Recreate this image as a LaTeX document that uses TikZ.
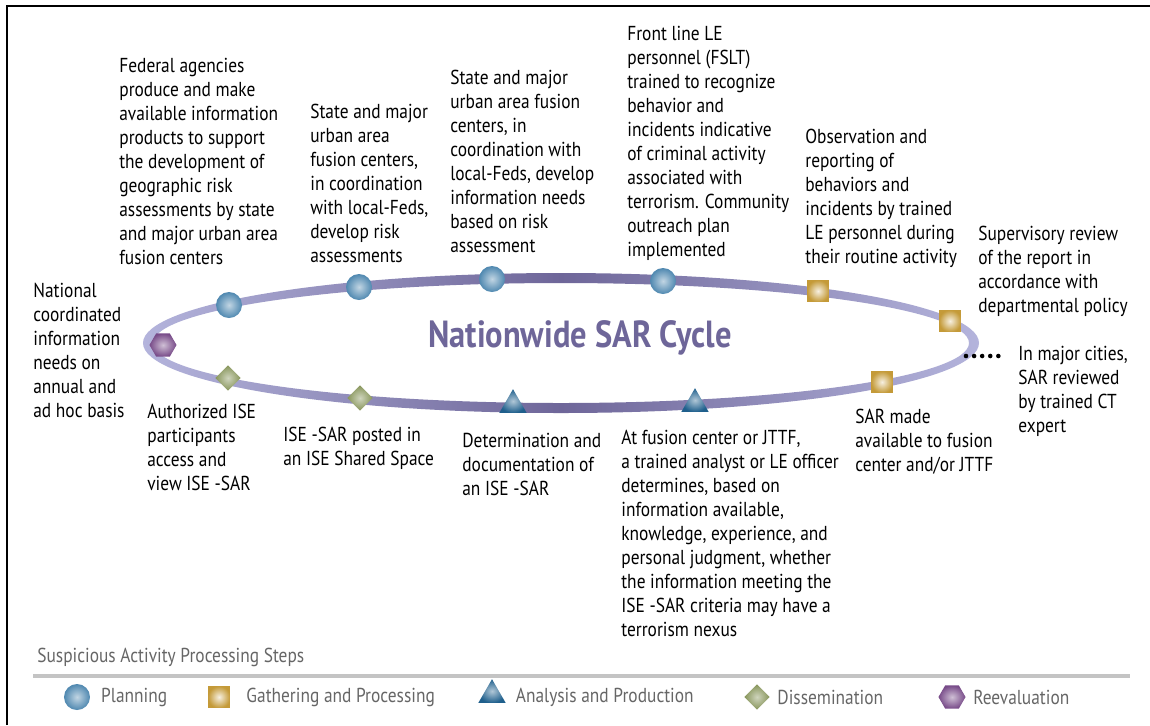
\documentclass[tikz,border=0pt]{standalone}
\usepackage{fontspec}
\setmainfont{PT Sans}[FakeStretch=0.86]
\usepackage{xcolor}
\usetikzlibrary{shapes.geometric,positioning}

\definecolor{ringlight}{HTML}{B4B4DC}
\definecolor{ringdark}{HTML}{6E6699}
\definecolor{titlecol}{HTML}{6E6699}
\definecolor{planblue}{HTML}{4F88B0}
\definecolor{gathergold}{HTML}{C49A38}
\definecolor{analysisblue}{HTML}{1F5F8C}
\definecolor{dissemgreen}{HTML}{87955A}
\definecolor{reevalpurple}{HTML}{774A88}
\definecolor{legendgray}{HTML}{666666}

\tikzset{
	txt/.style={anchor=north west, align=left, inner sep=0pt, yshift=-1.7pt, font=\fontsize{11.5}{13.66}\selectfont},
	legtxt/.style={anchor=west, inner sep=0pt, text=legendgray, font=\fontsize{11.5}{13.66}\selectfont},
	plan/.style={circle, inner sep=0pt, minimum size=14.8pt, shading=radial, inner color=planblue!35!white, outer color=planblue},
	gather/.style={rectangle, inner sep=0pt, minimum size=12.5pt, shading=radial, inner color=gathergold!15, outer color=gathergold},
	analysis/.style={regular polygon, regular polygon sides=3, inner sep=0pt, minimum size=18pt, shading=radial, inner color=analysisblue!35!white, outer color=analysisblue},
	dissem/.style={diamond, inner sep=0pt, minimum size=14.5pt, shading=radial, inner color=dissemgreen!40, outer color=dissemgreen},
	reeval/.style={regular polygon, regular polygon sides=6, inner sep=0pt, minimum size=15.4pt, shading=radial, inner color=reevalpurple!35!white, outer color=reevalpurple},
	dotline/.style={line width=2.6pt, dash pattern=on 0pt off 4.6pt, line cap=round}
}

\begin{document}
\begin{tikzpicture}[x=0.02cm, y=-0.02cm]
	\useasboundingbox (0,0) rectangle (1150,725);
	\draw[line width=1.2pt] (7,725) -- (7,6) -- (1150,6);
	
	% the cycle
	\shade[even odd rule, left color=ringlight, right color=ringlight, middle color=ringdark]
		(561,343) ellipse (418 and 70) (561,343) ellipse (408 and 60);
	\node[text=titlecol, font=\fontsize{21.5}{24}\bfseries\selectfont](TITLE) at (580,338){Nationwide SAR Cycle};
	
	% steps on the cycle
	\node[plan](P1) at (229,305){};
	\node[plan](P2) at (359,287){};
	\node[plan](P3) at (492,279){};
	\node[plan](P4) at (663,281){};
	\node[gather](G1) at (818,291){};
	\node[gather](G2) at (950,321){};
	\node[gather](G3) at (882,382){};
	\node[analysis](A2) at (695,404){};
	\node[analysis](A1) at (513,405){};
	\node[dissem](D2) at (360,398){};
	\node[dissem](D1) at (228,378){};
	\node[reeval](R1) at (163,345){};
	
	% texts
	\node[txt](FED) at (119,55){Federal agencies\\produce and make\\available information\\products to support\\the development of\\geographic risk\\assessments by state\\and major urban area\\fusion centers};
	\node[txt](STFC) at (310,101){State and major\\urban area\\fusion centers,\\in coordination\\with local-Feds,\\develop risk\\assessments};
	\node[txt](STINF) at (450,67){State and major\\urban area fusion\\centers, in\\coordination with\\local-Feds, develop\\information needs\\based on risk\\assessment};
	\node[txt](FSLT) at (627,23){Front line LE\\personnel (FSLT)\\trained to recognize\\behavior and\\incidents indicative\\of criminal activity\\associated with\\terrorism. Community\\outreach plan\\implemented};
	\node[txt](OBS) at (805,126){Observation and\\reporting of\\behaviors and\\incidents by trained\\LE personnel during\\their routine activity};
	\node[txt](SUP) at (978,223){Supervisory review\\of the report in\\accordance with\\departmental policy};
	\node[txt](CITY) at (1018,343){In major cities,\\SAR reviewed\\by trained CT\\expert};
	\node[txt](MADE) at (855,406){SAR made\\available to fusion\\center and/or JTTF};
	\node[txt](JTTF) at (621,427){At fusion center or JTTF,\\a trained analyst or LE officer\\determines, based on\\information available,\\knowledge, experience, and\\personal judgment, whether\\the information meeting the\\ISE -SAR criteria may have a\\terrorism nexus};
	\node[txt](DET) at (462,430){Determination and\\documentation of\\an ISE -SAR};
	\node[txt](POST) at (283,424){ISE -SAR posted in\\an ISE Shared Space};
	\node[txt](AUTH) at (147,401){Authorized ISE\\participants\\access and\\view ISE -SAR};
	\node[txt](NAT) at (33,280){National\\coordinated\\information\\needs on\\annual and\\ad hoc basis};
	
	\coordinate(RINGE) at (966,356);
	\draw[dotline] (RINGE) -- ([xshift=-9pt]CITY.west |- RINGE);
	
	% legend
	\node[legtxt](LEG) at (37,657){Suspicious Activity Processing Steps};
	\fill[black!23] (33,673.5) rectangle (1130,678);
	\node[plan](LP) at (77,697){};
	\node[legtxt, right=6pt of LP](LPT){Planning};
	\node[gather](LG) at (219,697){};
	\node[legtxt, right=9pt of LG](LGT){Gathering and Processing};
	\node[analysis](LA) at (492,695){};
	\node[legtxt, right=8pt of LA.east |- LP](LAT){Analysis and Production};
	\node[dissem](LD) at (757,697){};
	\node[legtxt, right=4pt of LD](LDT){Dissemination};
	\node[reeval](LR) at (952,697){};
	\node[legtxt, right=4pt of LR](LRT){Reevaluation};
\end{tikzpicture}
\end{document}
